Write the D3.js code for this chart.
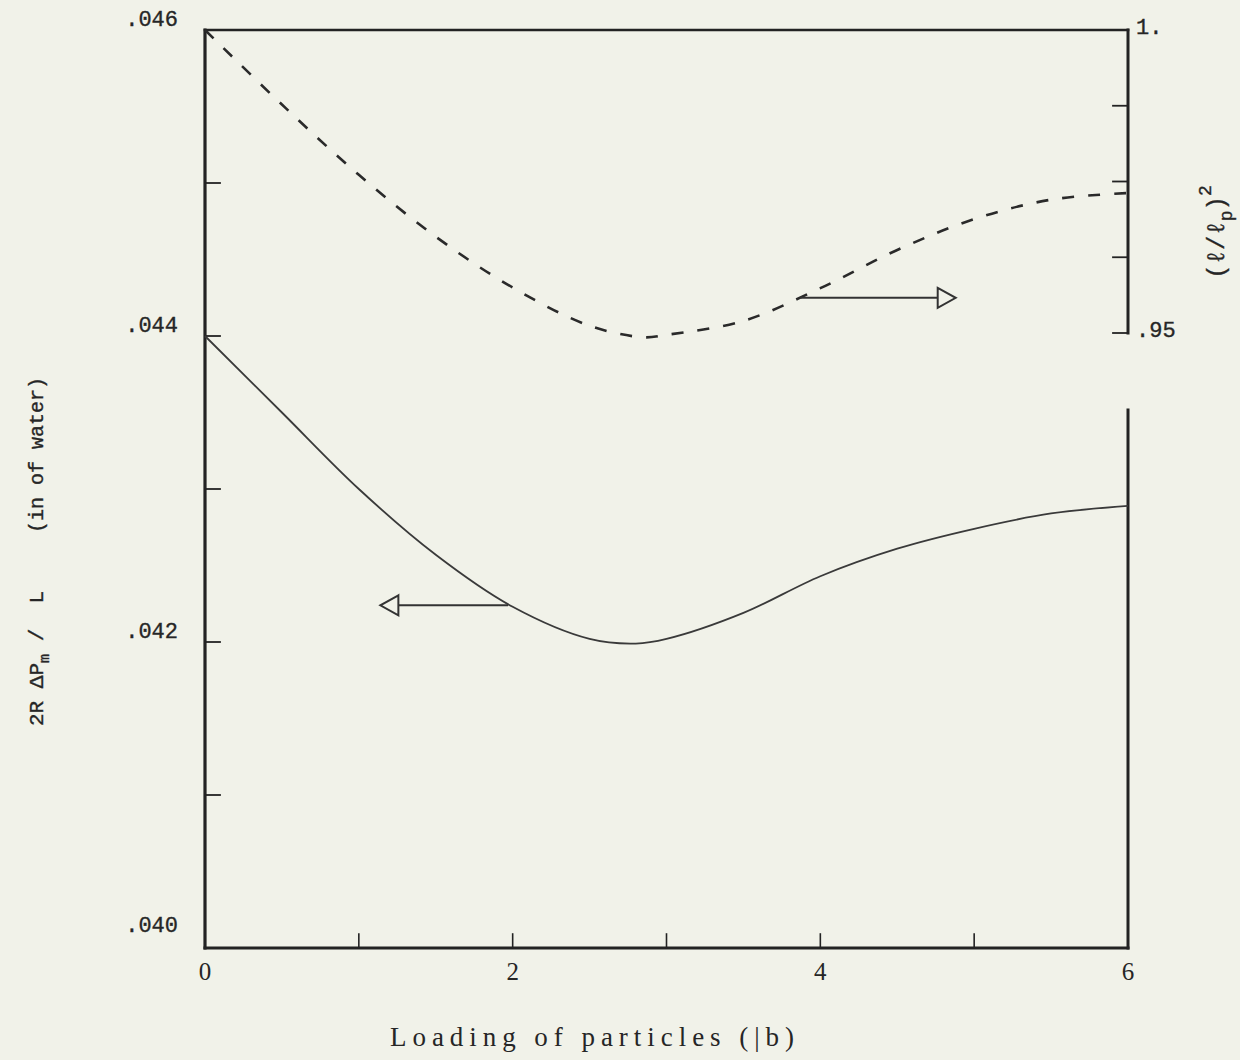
<!DOCTYPE html>
<html>
<head>
<meta charset="utf-8">
<script src="https://cdn.jsdelivr.net/npm/d3@7/dist/d3.min.js"></script>
<style>
  body { margin: 0; background: #f1f2e9; }
  svg { display: block; }
  .mono { font-family: "Liberation Mono", "DejaVu Sans Mono", monospace; fill: #262626; stroke: #262626; stroke-width: 0.35; }
  .serif { font-family: "Liberation Serif", "DejaVu Serif", serif; fill: #262626; }
</style>
</head>
<body>
<div id="chart"></div>
<script>
// loading of particles (lb)
const loadingSolid = [0, 0.5, 1, 1.5, 2, 2.5, 2.8, 3, 3.5, 4, 4.5, 5, 5.5, 6];
// 2R dPm / L (in of water), left axis
const pressureDrop = [0.04400, 0.04350, 0.04300, 0.04257, 0.04223, 0.04202, 0.04199,
  0.04202, 0.04219, 0.04243, 0.04261, 0.04274, 0.04284, 0.04289];

const loadingDashed = [0, 0.5, 1, 1.5, 2, 2.5, 2.85, 3, 3.5, 4, 4.5, 5, 5.5, 6];
// (l/lp)^2, right axis
const lengthRatio = [1.0, 0.9877, 0.9761, 0.9659, 0.9575, 0.9512, 0.9493,
  0.9497, 0.9520, 0.9574, 0.9637, 0.9688, 0.9720, 0.9731];

const xTicks = [1, 2, 3, 4, 5];
const xTickLabels = [0, 2, 4, 6];
const leftTicks = [0.045, 0.044, 0.043, 0.042, 0.041];
const leftTickLabels = [".046", ".044", ".042", ".040"];
const leftTickValues = [0.046, 0.044, 0.042, 0.040];
const rightTicks = [0.9875, 0.975, 0.9625, 0.95];
const rightTickLabels = ["1.", ".95"];
const rightTickValues = [1.0, 0.95];

// arrows: loading where it starts, loading at the tip, value on its own axis
const leftArrow = { from: 1.97, to: 1.14, value: 0.04224 };
const rightArrow = { from: 3.87, to: 4.88, value: 0.9558 };

const width = 1240, height = 1060;
const ink = "#232323";

const svg = d3.select("#chart").append("svg")
  .attr("width", width)
  .attr("height", height);

svg.append("rect").attr("width", width).attr("height", height).attr("fill", "#f1f2e9");

const x = d3.scaleLinear().domain([0, 6]).range([205, 1128]);
const yLeft = d3.scaleLinear().domain([0.040, 0.046]).range([948, 30]);
const yRight = d3.scaleLinear().domain([0.95, 1.0]).range([333, 30]);

// ---------------------------------------------------------------------------//
// Frame
// ---------------------------------------------------------------------------//
const frame = svg.append("g").attr("stroke", ink).attr("fill", "none").attr("stroke-linecap", "square");

frame.append("line") // top
  .attr("x1", x(0)).attr("x2", x(6)).attr("y1", yLeft(0.046)).attr("y2", yLeft(0.046))
  .attr("stroke-width", 2.6);
frame.append("line") // left
  .attr("x1", x(0)).attr("x2", x(0)).attr("y1", yLeft(0.046)).attr("y2", yLeft(0.040))
  .attr("stroke-width", 3.2);
frame.append("line") // bottom
  .attr("x1", x(0)).attr("x2", x(6)).attr("y1", yLeft(0.040)).attr("y2", yLeft(0.040))
  .attr("stroke-width", 3);
frame.append("line") // right, upper part (right axis)
  .attr("x1", x(6)).attr("x2", x(6)).attr("y1", yRight(1.0)).attr("y2", yRight(0.95))
  .attr("stroke-width", 3);
frame.append("line") // right, lower part
  .attr("x1", x(6)).attr("x2", x(6)).attr("y1", 410).attr("y2", yLeft(0.040))
  .attr("stroke-width", 3);

// ticks
frame.selectAll(".xt").data(xTicks).join("line")
  .attr("x1", d => x(d)).attr("x2", d => x(d))
  .attr("y1", yLeft(0.040)).attr("y2", yLeft(0.040) - 14)
  .attr("stroke-width", 1.6);

frame.selectAll(".lt").data(leftTicks).join("line")
  .attr("x1", x(0)).attr("x2", x(0) + 15)
  .attr("y1", d => yLeft(d)).attr("y2", d => yLeft(d))
  .attr("stroke-width", 1.8);

frame.selectAll(".rt").data(rightTicks).join("line")
  .attr("x1", x(6)).attr("x2", x(6) - 15)
  .attr("y1", d => yRight(d)).attr("y2", d => yRight(d))
  .attr("stroke-width", 1.8);

// tick labels
svg.selectAll(".xl").data(xTickLabels).join("text")
  .attr("class", "serif")
  .attr("x", d => x(d)).attr("y", 980)
  .attr("text-anchor", "middle")
  .attr("font-size", 25)
  .text(d => d);

svg.selectAll(".yl").data(leftTickValues).join("text")
  .attr("class", "mono")
  .attr("x", 178).attr("y", (d, i) => yLeft(d) - 4 - (i === 3 ? 12 : 0))
  .attr("text-anchor", "end")
  .attr("font-size", 22)
  .text((d, i) => leftTickLabels[i]);

svg.selectAll(".yr").data(rightTickValues).join("text")
  .attr("class", "mono")
  .attr("x", 1136).attr("y", d => yRight(d) + 4)
  .attr("font-size", 22)
  .text((d, i) => rightTickLabels[i]);

// ---------------------------------------------------------------------------//
// Curves
// ---------------------------------------------------------------------------//
const solidLine = d3.line()
  .x(d => x(d[0]))
  .y(d => yLeft(d[1]))
  .curve(d3.curveCatmullRom.alpha(0.5));

const dashedLine = d3.line()
  .x(d => x(d[0]))
  .y(d => yRight(d[1]))
  .curve(d3.curveCatmullRom.alpha(0.5));

svg.append("path")
  .datum(d3.zip(loadingSolid, pressureDrop))
  .attr("d", solidLine)
  .attr("fill", "none")
  .attr("stroke", "#3a3a3a")
  .attr("stroke-width", 1.8);

svg.append("path")
  .datum(d3.zip(loadingDashed, lengthRatio))
  .attr("d", dashedLine)
  .attr("fill", "none")
  .attr("stroke", "#2a2a2a")
  .attr("stroke-width", 2.6)
  .attr("stroke-dasharray", "12,14");

// ---------------------------------------------------------------------------//
// Arrows (open triangle heads)
// ---------------------------------------------------------------------------//
function drawArrow(a, yScale) {
  const y0 = yScale(a.value);
  const x0 = x(a.from);
  const xt = x(a.to);
  const dir = Math.sign(xt - x0);
  const headLen = 18;
  const xb = xt - dir * headLen;
  const g = svg.append("g").attr("stroke", "#333").attr("fill", "none").attr("stroke-width", 2);
  g.append("line").attr("x1", x0).attr("x2", xb).attr("y1", y0).attr("y2", y0);
  g.append("path")
    .attr("d", `M${xb},${y0 - 10} L${xt},${y0} L${xb},${y0 + 10} Z`)
    .attr("stroke-linejoin", "miter");
}
drawArrow(leftArrow, yLeft);
drawArrow(rightArrow, yRight);

// ---------------------------------------------------------------------------//
// Axis titles
// ---------------------------------------------------------------------------//
svg.append("text")
  .attr("class", "serif")
  .attr("x", 592).attr("y", 1046)
  .attr("text-anchor", "middle")
  .attr("font-size", 27)
  .attr("textLength", 404)
  .attr("lengthAdjust", "spacing")
  .text("Loading of particles (|b)");

const leftTitle = svg.append("text")
  .attr("class", "mono")
  .attr("font-size", 21)
  .attr("xml:space", "preserve")
  .style("white-space", "pre")
  .attr("transform", "translate(43,726) rotate(-90)");
leftTitle.append("tspan").text("2R \u0394P");
leftTitle.append("tspan").attr("dy", 6).attr("font-size", 15).text("m");
leftTitle.append("tspan").attr("dy", -6).text(" /  L");

svg.append("text")
  .attr("class", "mono")
  .attr("font-size", 20)
  .attr("text-anchor", "middle")
  .attr("transform", "translate(43,455) rotate(-90)")
  .text("(in of water)");

const rightTitle = svg.append("text")
  .attr("class", "mono")
  .attr("font-size", 24)
  .attr("text-anchor", "middle")
  .attr("transform", "translate(1224,232) rotate(-90)");
rightTitle.append("tspan").text("(\u2113/\u2113");
rightTitle.append("tspan").attr("dy", 8).attr("font-size", 18).text("p");
rightTitle.append("tspan").attr("dy", -8).text(")");
rightTitle.append("tspan").attr("dy", -13).attr("font-size", 18).text("2");
</script>
</body>
</html>
